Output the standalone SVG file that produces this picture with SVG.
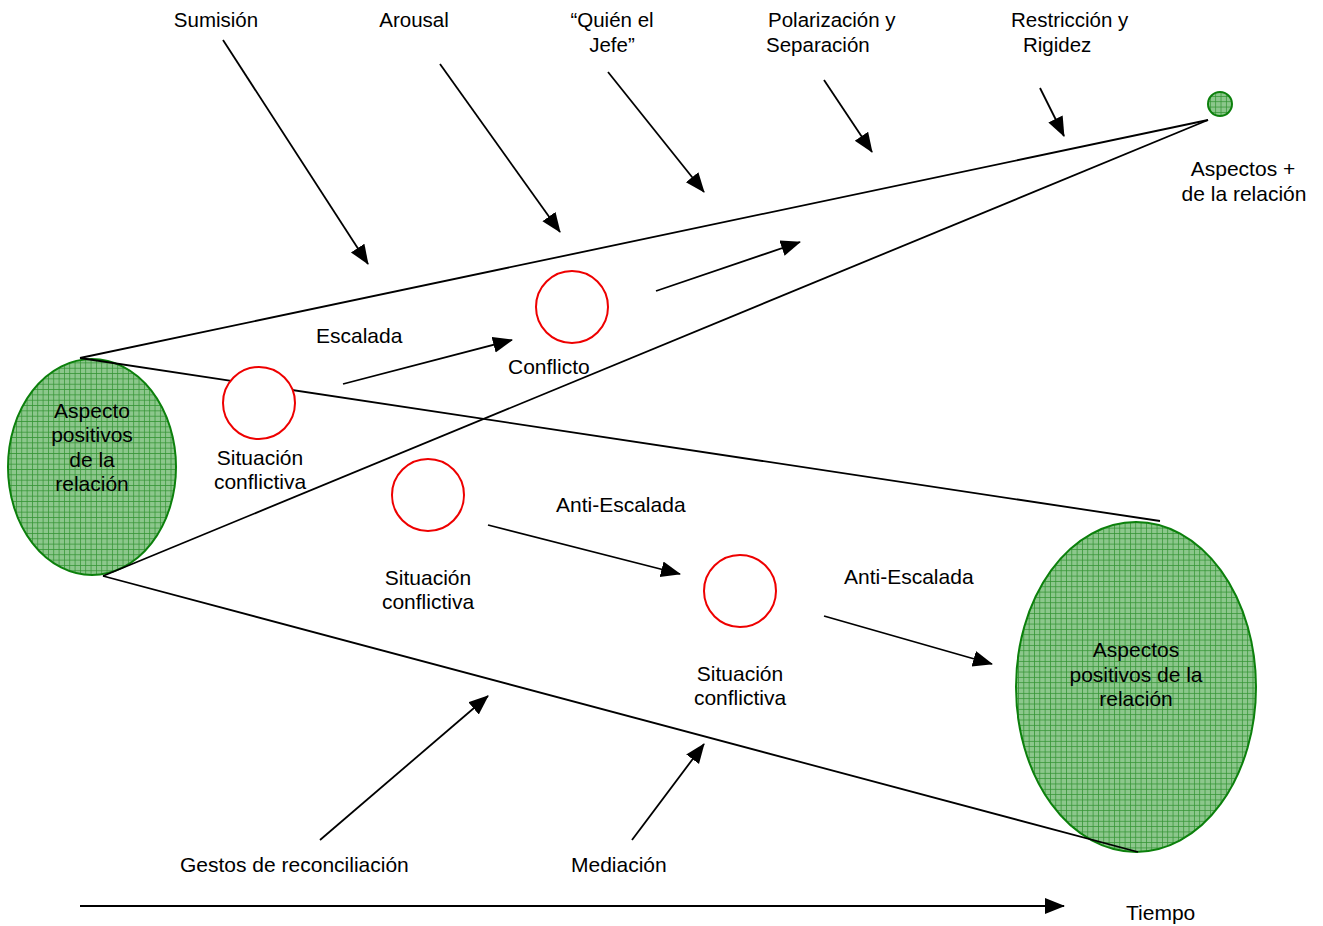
<svg xmlns="http://www.w3.org/2000/svg" width="1323" height="926" viewBox="0 0 1323 926">
<style>
.t{font-family:"Liberation Sans",Arial,sans-serif;font-size:21px;fill:#000}
.tt{font-family:"Liberation Sans",Arial,sans-serif;font-size:20.5px;fill:#000}
.c{text-anchor:middle}
.ln{stroke:#000;stroke-width:1.8;fill:none}
.ar{stroke:#000;stroke-width:1.8;fill:none;marker-end:url(#ah)}
.red{fill:#fff;stroke:#e00;stroke-width:2}
.grn{fill:url(#grid);stroke:#0c800c;stroke-width:2}
</style>
<defs>
<marker id="ah" markerUnits="userSpaceOnUse" markerWidth="22" markerHeight="18" refX="19" refY="8" orient="auto">
<path d="M0,0 L20,8 L0,16 z" fill="#000"/>
</marker>
<pattern id="grid" patternUnits="userSpaceOnUse" width="5.33" height="5.33">
<rect width="5.33" height="5.33" fill="#8cc78c"/>
<path d="M0,0.4 H5.33 M0.4,0 V5.33" stroke="#339433" stroke-width="0.8"/>
</pattern>
</defs>
<rect width="1323" height="926" fill="#fff"/>

<g id="aspecto-izq">
<ellipse class="grn" cx="92" cy="467" rx="84" ry="108"/>
<text class="t c" x="92" y="418">Aspecto</text>
<text class="t c" x="92" y="442">positivos</text>
<text class="t c" x="92" y="467">de la</text>
<text class="t c" x="92" y="491">relación</text>
</g>
<g id="aspecto-der">
<ellipse class="grn" cx="1136" cy="687" rx="120" ry="165"/>
<text class="t c" x="1136" y="657">Aspectos</text>
<text class="t c" x="1136" y="682">positivos de la</text>
<text class="t c" x="1136" y="706">relación</text>
</g>
<g id="aspecto-mas">
<circle class="grn" cx="1220" cy="104" r="12"/>
<text class="t c" x="1243" y="176">Aspectos +</text>
<text class="t c" x="1244" y="201">de la relación</text>
</g>

<g id="connectors">
<line class="ln" x1="80" y1="358" x2="1208" y2="120"/>
<line class="ln" x1="103" y1="576" x2="1208" y2="120"/>
<line class="ln" x1="80" y1="358" x2="1160" y2="521"/>
<line class="ln" x1="103" y1="576" x2="1138" y2="852"/>
<line class="ar" x1="223" y1="40" x2="368" y2="264"/>
<line class="ar" x1="440" y1="64" x2="560" y2="232"/>
<line class="ar" x1="608" y1="72" x2="704" y2="192"/>
<line class="ar" x1="824" y1="80" x2="872" y2="152"/>
<line class="ar" x1="1040" y1="88" x2="1064" y2="136"/>
<line class="ar" x1="656" y1="291" x2="800" y2="242"/>
<line class="ar" x1="343" y1="384" x2="512" y2="340"/>
<line class="ar" x1="488" y1="525" x2="680" y2="574"/>
<line class="ar" x1="824" y1="616" x2="992" y2="664"/>
<line class="ar" x1="320" y1="840" x2="488" y2="696"/>
<line class="ar" x1="632" y1="840" x2="704" y2="744"/>
<line class="ar" x1="80" y1="906" x2="1064" y2="906"/>
</g>

<g id="situacion-1">
<circle class="red" cx="259" cy="403" r="36"/>
<text class="t c" x="260" y="465">Situación</text>
<text class="t c" x="260" y="489">conflictiva</text>
</g>
<g id="conflicto">
<circle class="red" cx="572" cy="307" r="36"/>
<text class="t" x="508" y="374">Conflicto</text>
</g>
<g id="situacion-2">
<circle class="red" cx="428" cy="495" r="36"/>
<text class="t c" x="428" y="585">Situación</text>
<text class="t c" x="428" y="609">conflictiva</text>
</g>
<g id="situacion-3">
<circle class="red" cx="740" cy="591" r="36"/>
<text class="t c" x="740" y="681">Situación</text>
<text class="t c" x="740" y="705">conflictiva</text>
</g>

<g id="labels">
<text class="tt c" x="216" y="27">Sumisión</text>
<text class="tt c" x="414" y="27">Arousal</text>
<text class="tt c" x="612" y="27">“Quién el</text>
<text class="tt c" x="612" y="52">Jefe”</text>
<text class="tt" x="768" y="27">Polarización y</text>
<text class="tt" x="766" y="52">Separación</text>
<text class="tt" x="1011" y="27">Restricción y</text>
<text class="tt" x="1023" y="52">Rigidez</text>
<text class="t" x="316" y="343">Escalada</text>
<text class="t" x="556" y="512">Anti-Escalada</text>
<text class="t" x="844" y="584">Anti-Escalada</text>
<text class="t" x="180" y="872">Gestos de reconciliación</text>
<text class="t" x="571" y="872">Mediación</text>
<text class="t" x="1126" y="920">Tiempo</text>
</g>
</svg>
